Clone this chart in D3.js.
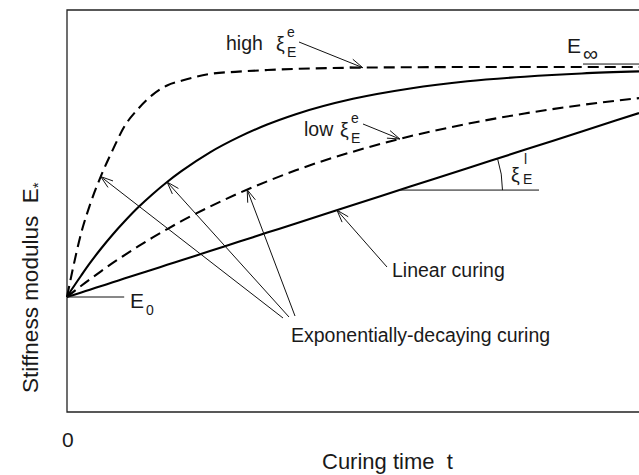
<!DOCTYPE html>
<html>
<head>
<meta charset="utf-8">
<script src="https://cdn.jsdelivr.net/npm/d3@7"></script>
<style>
  body { margin: 0; background: #fff; }
  svg { display: block; font-family: "Liberation Sans", Arial, sans-serif; }
  text { fill: #1a1a1a; white-space: pre; }
</style>
</head>
<body>
<script>
const width = 639, height = 475;

// curing time (arbitrary units), shared by all curves
const curingTime = [0, 0.1, 0.25, 0.4, 0.6, 0.8, 1, 1.25, 1.5, 1.75, 2, 2.5, 3, 3.5, 4, 5, 6, 7, 8, 9, 10];
// normalised stiffness (E - E0) / (Einf - E0)
const highRate = [0, 0.12, 0.28, 0.4, 0.53, 0.64, 0.74, 0.82, 0.88, 0.92, 0.94, 0.97, 0.98, 0.987, 0.992, 0.997, 0.999, 1, 1, 1, 1];
const midRate  = [0, 0.039, 0.094, 0.147, 0.212, 0.272, 0.327, 0.391, 0.448, 0.5, 0.547, 0.629, 0.695, 0.75, 0.795, 0.862, 0.907, 0.938, 0.958, 0.972, 0.981];
const lowRate  = [0, 0.02, 0.049, 0.077, 0.113, 0.148, 0.181, 0.221, 0.259, 0.295, 0.33, 0.393, 0.451, 0.503, 0.551, 0.632, 0.699, 0.753, 0.798, 0.835, 0.865];
const linearRate = [0, 0.008, 0.02, 0.032, 0.048, 0.064, 0.08, 0.1, 0.12, 0.14, 0.16, 0.2, 0.24, 0.28, 0.32, 0.4, 0.48, 0.56, 0.64, 0.72, 0.8];

const curves = [
  { key: 'high', values: highRate, dashed: true },
  { key: 'mid', values: midRate, dashed: false },
  { key: 'low', values: lowRate, dashed: true },
  { key: 'linear', values: linearRate, dashed: false }
];

const frame = { left: 67, top: 10, right: 639, bottom: 412 };

const x = d3.scaleLinear().domain([0, 10]).range([frame.left, frame.right]);
const y = d3.scaleLinear().domain([-0.5, 1.248]).range([frame.bottom, frame.top]);

const svg = d3.select('body').append('svg')
  .attr('width', width)
  .attr('height', height);

// plot frame (no right edge)
svg.append('path')
  .attr('d', `M${frame.right},${frame.top}H${frame.left}V${frame.bottom}H${frame.right}`)
  .attr('fill', 'none')
  .attr('stroke', '#222')
  .attr('stroke-width', 1.3);

const line = d3.line()
  .x((d, i) => x(curingTime[i]))
  .y(d => y(d))
  .curve(d3.curveMonotoneX);

svg.append('g').selectAll('path')
  .data(curves)
  .join('path')
  .attr('d', d => line(d.values))
  .attr('fill', 'none')
  .attr('stroke', '#000')
  .attr('stroke-width', 2.1)
  .attr('stroke-dasharray', d => d.dashed ? '11,6' : null);

const valueAt = (key, t) => {
  const c = curves.find(c => c.key === key);
  return d3.scaleLinear().domain(curingTime).range(c.values)(t);
};
const pointOn = (key, t) => [x(t), y(valueAt(key, t))];

const notes = svg.append('g')
  .attr('fill', 'none')
  .attr('stroke', '#111')
  .attr('stroke-width', 1);

const arrow = ([x0, y0], [x1, y1]) => {
  const a = Math.atan2(y0 - y1, x0 - x1);
  const len = 13, spread = 0.32;
  const w1 = [x1 + len * Math.cos(a - spread), y1 + len * Math.sin(a - spread)];
  const w2 = [x1 + len * Math.cos(a + spread), y1 + len * Math.sin(a + spread)];
  notes.append('path')
    .attr('d', `M${x0},${y0}L${x1},${y1}M${w1}L${x1},${y1}L${w2}`);
};

arrow([299, 42], pointOn('high', 5.17));
arrow([363, 124], pointOn('low', 5.82));
arrow([387, 267], pointOn('linear', 4.72));
arrow([283, 318], pointOn('high', 0.59));
arrow([289, 317], pointOn('mid', 1.75));
arrow([295, 316], pointOn('low', 3.15));

// E0 and E-infinity levels
notes.append('line')
  .attr('x1', x(0)).attr('x2', x(1))
  .attr('y1', y(0)).attr('y2', y(0));
notes.append('line')
  .attr('x1', 583).attr('x2', frame.right)
  .attr('y1', y(1.013)).attr('y2', y(1.013));

// slope angle of the linear curve
const slopeE = 0.465;
const tCross = slopeE / 0.08;
const cx = x(tCross), cy = y(slopeE);
notes.append('line')
  .attr('x1', cx).attr('x2', 539)
  .attr('y1', cy).attr('y2', cy);
const theta = Math.atan2(y(linearRate[20]) - y(linearRate[0]), x(10) - x(0));
const r = 103;
notes.append('path')
  .attr('d', `M${cx + r},${cy}A${r},${r} 0 0 0 ${cx + r * Math.cos(theta)},${cy + r * Math.sin(theta)}`);

const label = (txt, px, py, size) => svg.append('text')
  .attr('x', px).attr('y', py)
  .attr('font-size', size)
  .text(txt);

// high xi
label('high', 226, 50, 19.5);
label('ξ', 276, 51, 19.5);
label('E', 287, 57, 14);
label('e', 287, 37, 14);

// low xi
label('low', 304, 136, 19.5);
label('ξ', 340, 137, 19.5);
label('E', 351, 143, 14);
label('e', 351, 123, 14);

// linear xi
label('ξ', 511, 182, 19.5);
label('E', 523, 184, 14);
label('l', 524, 164, 14);

label('E', 567, 53, 21);
label('∞', 583, 61, 21);
label('E', 130, 308, 21);
label('0', 146, 315, 14);

label('Linear curing', 392, 277, 19.5);
label('Exponentially-decaying curing', 291, 342, 19.5);

label('0', 62, 447, 21);
label('Curing time  t', 322, 469, 22);

const yLabel = svg.append('text')
  .attr('transform', 'translate(38,393) rotate(-90)')
  .attr('font-size', 22.5);
yLabel.append('tspan').text('Stiffness modulus  E');
yLabel.append('tspan').attr('dy', 5).attr('font-size', 15).text('*');
</script>
</body>
</html>
